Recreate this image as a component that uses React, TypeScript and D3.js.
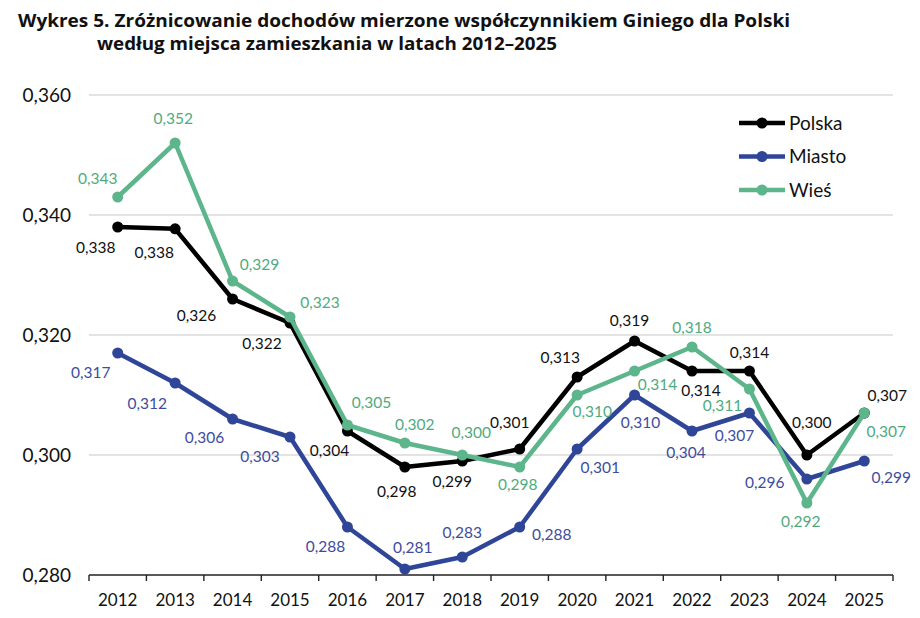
import * as d3 from "d3";

const years = [2012, 2013, 2014, 2015, 2016, 2017, 2018, 2019, 2020, 2021, 2022, 2023, 2024, 2025];
const polska = [0.338, 0.3377, 0.326, 0.322, 0.304, 0.298, 0.299, 0.301, 0.313, 0.319, 0.314, 0.314, 0.3, 0.307];
const miasto = [0.317, 0.312, 0.306, 0.303, 0.288, 0.281, 0.283, 0.288, 0.301, 0.31, 0.304, 0.307, 0.296, 0.299];
const wies = [0.343, 0.352, 0.329, 0.323, 0.305, 0.302, 0.3, 0.298, 0.31, 0.314, 0.318, 0.311, 0.292, 0.307];
const yTicks = [0.28, 0.3, 0.32, 0.34, 0.36];

// label offsets (dx, dy from the point, to the label centre)
const polskaLabelPos = [
  [-22, 21], [-21, 24], [-36, 17], [-28, 21], [-18, 20], [-8, 25], [-10, 21],
  [-10, -26], [-17, -19], [-5, -20], [9, 20], [0, -18], [5, -32], [23, -17],
];
const miastoLabelPos = [
  [-27, 20], [-28, 21], [-28, 19], [-30, 20], [-22, 20], [8, -21], [0, -24],
  [32, 8], [23, 19], [6, 28], [-6, 22], [-15, 23], [-42, 4], [27, 17],
];
const wiesLabelPos = [
  [-20, -18], [-2, -24], [27, -16], [30, -14], [24, -22], [10, -18], [9, -22],
  [-2, 18], [15, 17], [23, 14], [0, -19], [-27, 17], [-6, 19], [22, 19],
];

const series = [
  { name: "Polska", values: polska, color: "#000000", labelColor: "#111111", pos: polskaLabelPos },
  { name: "Miasto", values: miasto, color: "#2f4597", labelColor: "#3e4c9d", pos: miastoLabelPos },
  { name: "Wieś", values: wies, color: "#5db58b", labelColor: "#4eab7e", pos: wiesLabelPos },
];

const FONT = "Lato, 'Open Sans', sans-serif";
const TITLE_FONT = "'Open Sans', Lato, sans-serif";
const fmt = (v: number) => d3.format(".3f")(v).replace(".", ",");

export default function App() {
  const width = 920;
  const height = 618;
  const marginLeft = 89;
  const marginRight = 27;
  const marginTop = 95;
  const marginBottom = 43;

  const x = d3
    .scaleBand<number>()
    .domain(years)
    .range([marginLeft, width - marginRight]);
  const y = d3
    .scaleLinear()
    .domain([0.28, 0.36])
    .range([height - marginBottom, marginTop]);

  const line = d3
    .line<number>()
    .x((_, i) => x(years[i])! + x.bandwidth() / 2)
    .y((d) => y(d));

  const x0 = x.range()[0];
  const x1 = x.range()[1];

  return (
    <svg
      width={width}
      height={height}
      style={{ position: "absolute", left: 0, top: 0, background: "#fff" }}
      fontFamily={FONT}
    >
      <text
        x={18}
        y={27}
        fontSize={18}
        fontWeight={700}
        fill="#111"
        fontFamily={TITLE_FONT}
        textLength={772}
        lengthAdjust="spacingAndGlyphs"
      >
        Wykres 5. Zróżnicowanie dochodów mierzone współczynnikiem Giniego dla Polski
      </text>
      <text
        x={97}
        y={50}
        fontSize={18}
        fontWeight={700}
        fill="#111"
        fontFamily={TITLE_FONT}
        textLength={460}
        lengthAdjust="spacingAndGlyphs"
      >
        według miejsca zamieszkania w latach 2012–2025
      </text>

      {/* grid + y labels */}
      {yTicks.map((t) => (
        <g key={t}>
          {t > 0.28 && (
            <line x1={x0} x2={x1} y1={y(t)} y2={y(t)} stroke="#c8c8c8" strokeWidth={1.2} />
          )}
          <text
            x={71}
            y={y(t)}
            dy="0.35em"
            textAnchor="end"
            fontSize={19}
            fill="#111"
          >
            {fmt(t)}
          </text>
        </g>
      ))}

      {/* x axis */}
      <line x1={x0} x2={x1} y1={y(0.28)} y2={y(0.28)} stroke="#222" strokeWidth={1.6} />
      {[...years.map((yr) => x(yr)!), x1].map((px, i) => (
        <line key={i} x1={px} x2={px} y1={y(0.28)} y2={y(0.28) + 6} stroke="#222" strokeWidth={1.4} />
      ))}
      {years.map((yr) => (
        <text
          key={yr}
          x={x(yr)! + x.bandwidth() / 2}
          y={606}
          textAnchor="middle"
          fontSize={17}
          fill="#111"
        >
          {yr}
        </text>
      ))}

      {/* lines */}
      {series.map((s) => (
        <g key={s.name}>
          <path d={line(s.values)!} fill="none" stroke={s.color} strokeWidth={4.5} strokeLinejoin="round" />
          {s.values.map((v, i) => (
            <circle key={i} cx={x(years[i])! + x.bandwidth() / 2} cy={y(v)} r={5.5} fill={s.color} />
          ))}
        </g>
      ))}

      {/* data labels */}
      {series.map((s) => (
        <g key={s.name + "-labels"}>
          {s.values.map((v, i) => (
            <text
              key={i}
              x={x(years[i])! + x.bandwidth() / 2 + s.pos[i][0]}
              y={y(v) + s.pos[i][1]}
              dy="0.35em"
              textAnchor="middle"
              fontSize={15.5}
              fill={s.labelColor}
            >
              {fmt(v)}
            </text>
          ))}
        </g>
      ))}

      {/* legend */}
      {series.map((s, i) => (
        <g key={s.name + "-legend"} transform={`translate(739, ${123 + i * 33.5})`}>
          <line x1={0} x2={46} y1={0} y2={0} stroke={s.color} strokeWidth={4.5} />
          <circle cx={23} cy={0} r={5.5} fill={s.color} />
          <text x={50} y={0} dy="0.35em" fontSize={19} fill="#111">
            {s.name}
          </text>
        </g>
      ))}
    </svg>
  );
}
